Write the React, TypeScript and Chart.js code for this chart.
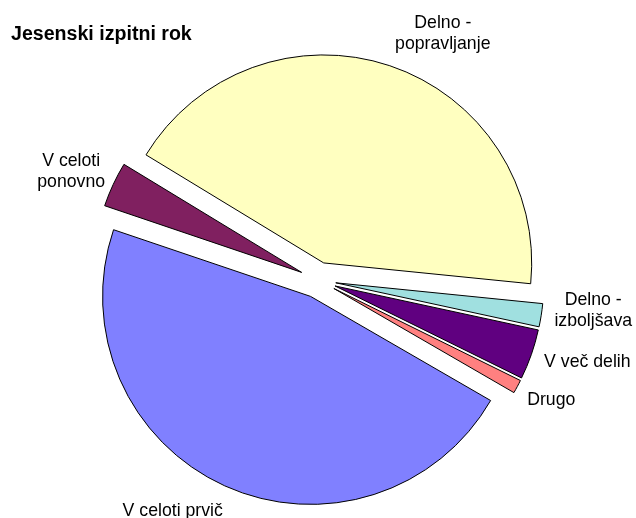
import React, { useEffect, useRef } from "react";
import { Chart, registerables } from "chart.js";

Chart.register(...registerables);

// ---- data ----
const categories = [
  "Delno - popravljanje",
  "Delno - izboljšava",
  "V več delih",
  "Drugo",
  "V celoti prvič",
  "V celoti ponovno",
];
const shares = [42.9, 1.8, 3.9, 1.05, 46.85, 3.5];
const labelLines = [
  ["Delno -", "popravljanje"],
  ["Delno -", "izboljšava"],
  ["V več delih"],
  ["Drugo"],
  ["V celoti prvič"],
  ["V celoti", "ponovno"],
];
const chartTitle = "Jesenski izpitni rok";

// ---- styles ----
const colors = ["#FFFFC0", "#A0E0E0", "#600080", "#FF8080", "#8080FF", "#802060"];
const EXPLODE = 18;
const RADIUS = 208;
const FONT = '"Liberation Sans", Arial, sans-serif';
const LABEL_SIZE = 17.7;
const LINE_H = 21;
// label nudges (dx, dy of first baseline) from each slice's outer mid-point
const labelNudge: [number, number][] = [
  [53, -38],
  [52, -10],
  [56, 13],
  [34, 18],
  [-52, 30],
  [-42, -18],
];

const explodePlugin = {
  id: "explode",
  afterDatasetsUpdate(chart: any) {
    const meta = chart.getDatasetMeta(0);
    meta.data.forEach((el: any) => {
      const mid = (el.startAngle + el.endAngle) / 2;
      el.x += Math.cos(mid) * EXPLODE;
      el.y += Math.sin(mid) * EXPLODE;
    });
  },
};

const labelPlugin = {
  id: "sliceLabels",
  afterDatasetsDraw(chart: any) {
    const ctx = chart.ctx;
    const meta = chart.getDatasetMeta(0);
    ctx.save();
    ctx.fillStyle = "#000";
    ctx.font = `${LABEL_SIZE}px ${FONT}`;
    ctx.textAlign = "center";
    ctx.textBaseline = "alphabetic";
    meta.data.forEach((el: any, i: number) => {
      const mid = (el.startAngle + el.endAngle) / 2;
      const ox = el.x + Math.cos(mid) * el.outerRadius;
      const oy = el.y + Math.sin(mid) * el.outerRadius;
      const [dx, dy] = labelNudge[i];
      labelLines[i].forEach((line, j) => {
        ctx.fillText(line, ox + dx, oy + dy + j * LINE_H);
      });
    });
    // title
    ctx.font = `bold 19.6px ${FONT}`;
    ctx.textAlign = "left";
    ctx.fillText(chartTitle, 11, 40);
    ctx.restore();
  },
};

export default function App() {
  const ref = useRef<HTMLCanvasElement | null>(null);
  useEffect(() => {
    if (!ref.current) return;
    const chart = new Chart(ref.current, {
      type: "pie",
      data: {
        labels: categories,
        datasets: [
          {
            data: shares,
            backgroundColor: colors,
            borderColor: "#000",
            borderWidth: 1,
          },
        ],
      },
      options: {
        responsive: false,
        animation: false,
        devicePixelRatio: 1,
        rotation: 301.3,
        radius: RADIUS,
        layout: { padding: { top: 42 } },
        plugins: {
          legend: { display: false },
          tooltip: { enabled: false },
          title: { display: false },
        },
      } as any,
      plugins: [explodePlugin, labelPlugin],
    });
    return () => chart.destroy();
  }, []);
  return (
    <div style={{ position: "fixed", left: 0, top: 0, width: 636, height: 518, background: "#fff" }}>
      <canvas ref={ref} width={636} height={518} />
    </div>
  );
}
